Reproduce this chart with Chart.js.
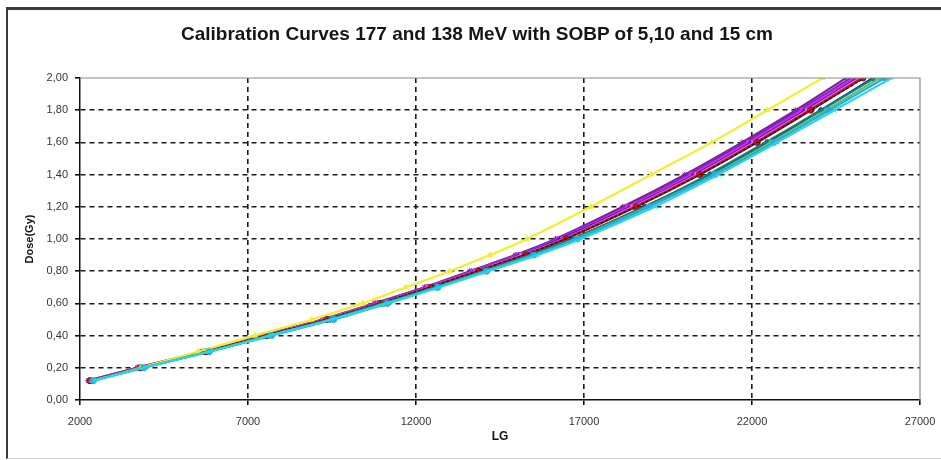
<!DOCTYPE html>
<html>
<head>
<meta charset="utf-8">
<script src="https://cdn.jsdelivr.net/npm/chart.js@4.4.0/dist/chart.umd.min.js"></script>
<style>
  html, body { margin: 0; padding: 0; background: #fff; }
  #wrap { position: relative; width: 941px; height: 460px; overflow: hidden; }
  #frame { position: absolute; left: 6px; top: 7px; width: 960px; height: 448px;
           border-left: 2px solid #3a3a3a; border-top: 3px solid #3a3a3a;
           border-bottom: 1px solid #cfcfcf; pointer-events: none; }
  #title { position: absolute; left: 0; top: 23px; width: 954px; text-align: center;
           font: bold 19px/22px "Liberation Sans", Arial, sans-serif; color: #151515; }
</style>
</head>
<body>
<div id="wrap">
  <canvas id="mychart" width="941" height="460"></canvas>
  <div id="title">Calibration Curves 177 and 138 MeV with SOBP of 5,10 and 15 cm</div>
  <div id="frame"></div>
</div>
<script>
// delivered doses (Gy), shared by every curve
const doses = [0.12, 0.2, 0.3, 0.4, 0.5, 0.6, 0.7, 0.8, 0.9, 1.0, 1.2, 1.4, 1.6, 1.8, 2.0];

// LG readings per curve
const lgNavy    = [2350, 3850, 5800, 7600, 9450, 11050, 12600, 14000, 15400, 16650, 18800, 20750, 22450, 24050, 25600];
const lgMagenta = [2300, 3750, 5650, 7450, 9250, 10800, 12300, 13700, 15050, 16250, 18300, 20200, 21900, 23500, 25050];
const lgYellow  = [2400, 3800, 5500, 7200, 8900, 10400, 11700, 13000, 14200, 15300, 17200, 19000, 20800, 22450, 24100];
const lgCyan    = [2400, 3900, 5850, 7650, 9500, 11150, 12700, 14150, 15600, 16900, 19100, 21000, 22750, 24450, 26150];
const lgPurple  = [2250, 3700, 5600, 7400, 9200, 10750, 12250, 13600, 14950, 16150, 18150, 20000, 21700, 23300, 24800];
const lgMaroon  = [2300, 3800, 5750, 7550, 9350, 10950, 12450, 13850, 15250, 16450, 18550, 20450, 22150, 23750, 25300];
const lgTeal    = [2350, 3850, 5800, 7600, 9400, 11000, 12550, 14000, 15400, 16650, 18800, 20700, 22400, 24050, 25650];
const lgBlue    = [2300, 3750, 5700, 7500, 9300, 10850, 12350, 13750, 15100, 16300, 18400, 20300, 22000, 23600, 25150];
const lgSky     = [2400, 3900, 5850, 7700, 9550, 11150, 12650, 14100, 15500, 16800, 18950, 20900, 22650, 24300, 25950];
const lgGreen   = [2350, 3850, 5800, 7650, 9500, 11100, 12650, 14050, 15500, 16750, 18900, 20850, 22550, 24200, 25800];
const lgViolet  = [2250, 3700, 5650, 7450, 9250, 10800, 12300, 13650, 15000, 16200, 18250, 20100, 21800, 23400, 24950];
const lgRed     = [2300, 3780, 5700, 7520, 9330, 10920, 12430, 13830, 15230, 16430, 18530, 20420, 22120, 23720, 25280];
const lgPink    = [2280, 3760, 5680, 7480, 9280, 10880, 12380, 13780, 15150, 16380, 18450, 20350, 22050, 23650, 25200];
const lgTrend   = [2300, 3800, 5700, 7500, 9300, 10900, 12400, 13800, 15200, 16450, 18550, 20450, 22150, 23750, 25350];

const xTicks = [2000, 7000, 12000, 17000, 22000, 27000];
const xTickLabels = ['2000', '7000', '12000', '17000', '22000', '27000'];
const yTicks = [0, 0.2, 0.4, 0.6, 0.8, 1.0, 1.2, 1.4, 1.6, 1.8, 2.0];
const yTickLabels = ['0,00', '0,20', '0,40', '0,60', '0,80', '1,00', '1,20', '1,40', '1,60', '1,80', '2,00'];

const curves = [
  { lg: lgCyan,    color: '#22d8e8', marker: 'crossRot' },
  { lg: lgSky,     color: '#2aa8e0', marker: 'circle' },
  { lg: lgGreen,   color: '#5cc45c', marker: 'triangle' },
  { lg: lgYellow,  color: '#f2ee2a', marker: 'triangle' },
  { lg: lgTeal,    color: '#108080', marker: 'cross' },
  { lg: lgTrend,   color: '#111111', marker: false, dash: [3, 2] },
  { lg: lgRed,     color: '#c8102e', marker: 'rect' },
  { lg: lgMaroon,  color: '#800000', marker: 'circle' },
  { lg: lgPink,    color: '#f060c8', marker: 'rect' },
  { lg: lgBlue,    color: '#2020e0', marker: 'rectRot' },
  { lg: lgMagenta, color: '#e820e0', marker: 'rect' },
  { lg: lgViolet,  color: '#6a2cc8', marker: 'star' },
  { lg: lgPurple,  color: '#80208a', marker: 'star' },
  { lg: lgNavy,    color: '#1a1a80', marker: 'rectRot' }
];

Chart.defaults.font.family = '"Liberation Sans", Arial, sans-serif';
Chart.defaults.color = '#333';

const frame = {
  id: 'frame',
  afterDatasetsDraw(chart) {
    const { ctx, chartArea: a } = chart;
    ctx.save();
    ctx.strokeStyle = '#8a8a8a';
    ctx.lineWidth = 1.2;
    ctx.beginPath();
    ctx.moveTo(a.left, a.top);
    ctx.lineTo(a.right, a.top);
    ctx.lineTo(a.right, a.bottom);
    ctx.stroke();
    ctx.restore();
  }
};

const ctx = document.getElementById('mychart');
new Chart(ctx, {
  type: 'scatter',
  data: {
    datasets: curves.map((c) => ({
      data: c.lg.map((x, i) => ({ x: x, y: doses[i] })),
      showLine: true,
      borderColor: c.color,
      backgroundColor: c.color,
      borderWidth: c.marker ? 2.2 : 1.2,
      borderDash: c.dash || [],
      tension: 0.3,
      pointStyle: c.marker || 'circle',
      pointRadius: c.marker ? 3 : 0,
      pointBorderWidth: 1
    }))
  },
  plugins: [frame],
  options: {
    responsive: false,
    animation: false,
    layout: { padding: { left: 0, right: 21, top: 78, bottom: 0 } },
    plugins: {
      legend: { display: false },
      tooltip: { enabled: false }
    },
    scales: {
      x: {
        type: 'linear',
        min: 2000,
        max: 27000,
        afterBuildTicks: (s) => { s.ticks = xTicks.map((v) => ({ value: v })); },
        afterFit: (s) => { s.height = 60; s.paddingLeft = 0; s.paddingRight = 0; },
        ticks: {
          font: { size: 11 },
          color: '#333',
          padding: 10,
          maxRotation: 0,
          callback: (v) => xTickLabels[xTicks.indexOf(v)]
        },
        grid: {
          color: (c) => (c.tick && (c.tick.value === 2000 || c.tick.value === 27000)) ? 'rgba(0,0,0,0)' : '#1a1a1a',
          lineWidth: 1.6,
          tickColor: '#111',
          tickLength: 5
        },
        border: { color: '#111', width: 1.5, dash: [5, 4] },
        title: { display: true, text: 'LG', color: '#111', font: { size: 12, weight: 'bold' }, padding: { top: 0, bottom: 16 } }
      },
      y: {
        min: 0,
        max: 2,
        afterBuildTicks: (s) => { s.ticks = yTicks.map((v) => ({ value: v })); },
        afterFit: (s) => { s.width = 80; s.paddingTop = 0; s.paddingBottom = 0; },
        ticks: {
          font: { size: 11 },
          color: '#333',
          padding: 7,
          callback: (v) => yTickLabels[yTicks.findIndex((t) => Math.abs(t - v) < 1e-6)]
        },
        grid: {
          color: (c) => (c.tick && (c.tick.value === 0 || c.tick.value === 2)) ? 'rgba(0,0,0,0)' : '#1a1a1a',
          lineWidth: 1.6,
          tickColor: '#111',
          tickLength: 5
        },
        border: { color: '#111', width: 1.5, dash: [5, 4] },
        title: { display: true, text: 'Dose(Gy)', color: '#111', font: { size: 11, weight: 'bold' }, padding: { top: 23, bottom: 0 } }
      }
    }
  }
});
</script>
</body>
</html>
